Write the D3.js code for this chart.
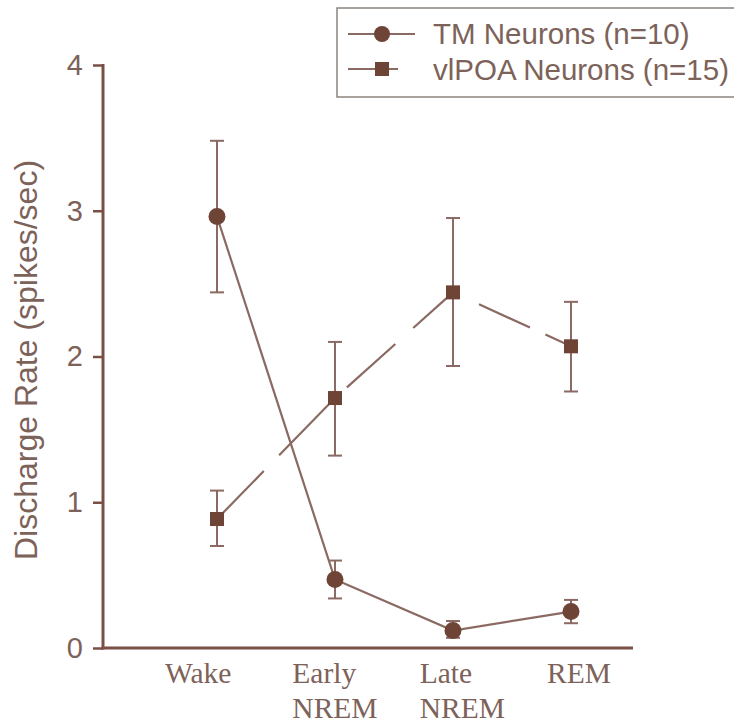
<!DOCTYPE html>
<html>
<head>
<meta charset="utf-8">
<script src="https://cdn.jsdelivr.net/npm/d3@7"></script>
<style>
  body { margin: 0; background: #fff; }
  svg { display: block; }
</style>
</head>
<body>
<svg width="734" height="723"></svg>
<script>
const states = ["Wake", "Early NREM", "Late NREM", "REM"];
const stateLines = [["Wake"], ["Early", "NREM"], ["Late", "NREM"], ["REM"]];
const yTicks = [0, 1, 2, 3, 4];

const tmMean = [2.96, 0.47, 0.12, 0.25];
const tmHigh = [3.48, 0.60, 0.185, 0.33];
const tmLow = [2.44, 0.34, 0.07, 0.17];

const vlMean = [0.885, 1.715, 2.44, 2.07];
const vlHigh = [1.08, 2.10, 2.95, 2.375];
const vlLow = [0.70, 1.32, 1.935, 1.76];

const seriesNames = ["TM Neurons (n=10)", "vlPOA Neurons (n=15)"];

const axisCol = "#7a5046";
const lineCol = "#8a6a62";
const markCol = "#6e4436";
const textCol = "#7d6259";

const svg = d3.select("svg");

const x = d3.scalePoint().domain(states).range([217, 571]);
const xLab = d3.scalePoint().domain(states).range([165, 547]);
const y = d3.scaleLinear().domain([0, 4]).range([648, 65]);

// axes
const yAxis = svg.append("g")
    .attr("transform", "translate(103,0)")
    .call(d3.axisLeft(y).tickValues(yTicks).tickSize(10).tickPadding(10).tickFormat(d3.format("d")));
yAxis.select(".domain").remove();
yAxis.selectAll("line").attr("stroke", axisCol).attr("stroke-width", 2.5);
yAxis.selectAll("text")
    .attr("fill", textCol)
    .style("font-family", "'Liberation Sans', Arial, sans-serif")
    .style("font-size", "29px");

svg.append("line")
    .attr("x1", 103).attr("x2", 103).attr("y1", y(4) - 1).attr("y2", y(0) + 1.5)
    .attr("stroke", axisCol).attr("stroke-width", 3);
svg.append("line")
    .attr("x1", 101.5).attr("x2", 633).attr("y1", y(0)).attr("y2", y(0))
    .attr("stroke", axisCol).attr("stroke-width", 3);

// x labels
const xl = svg.append("g").selectAll("text")
    .data(states)
    .enter().append("text")
    .attr("x", d => xLab(d))
    .attr("y", 683)
    .attr("fill", textCol)
    .style("font-family", "'Liberation Serif', 'Times New Roman', serif")
    .style("font-size", "29.5px");
xl.each(function(d, i) {
    const t = d3.select(this);
    stateLines[i].forEach((s, j) => {
        t.append("tspan").attr("x", xLab(d)).attr("dy", j === 0 ? 0 : 35).text(s);
    });
});

// y label
svg.append("text")
    .attr("transform", "translate(37,360) rotate(-90)")
    .attr("text-anchor", "middle")
    .attr("fill", textCol)
    .style("font-family", "'Liberation Sans', Arial, sans-serif")
    .style("font-size", "32px")
    .text("Discharge Rate (spikes/sec)");

// error bars
function errBars(mean, hi, lo) {
    const g = svg.append("g");
    states.forEach((s, i) => {
        g.append("line")
            .attr("x1", x(s)).attr("x2", x(s))
            .attr("y1", y(hi[i])).attr("y2", y(lo[i]))
            .attr("stroke", lineCol).attr("stroke-width", 2);
        [hi[i], lo[i]].forEach(v => {
            g.append("line")
                .attr("x1", x(s) - 7).attr("x2", x(s) + 7)
                .attr("y1", y(v)).attr("y2", y(v))
                .attr("stroke", lineCol).attr("stroke-width", 2);
        });
    });
}
errBars(tmMean, tmHigh, tmLow);
errBars(vlMean, vlHigh, vlLow);

const line = d3.line().x((d, i) => x(states[i])).y(d => y(d));

svg.append("path")
    .datum(vlMean)
    .attr("d", line)
    .attr("fill", "none")
    .attr("stroke", lineCol)
    .attr("stroke-width", 2.2)
    .attr("stroke-dasharray", "67,22,82,14,65,24,58,24,56,17,60");

svg.append("path")
    .datum(tmMean)
    .attr("d", line)
    .attr("fill", "none")
    .attr("stroke", lineCol)
    .attr("stroke-width", 2.2);

// markers
svg.append("g").selectAll("circle")
    .data(tmMean)
    .enter().append("circle")
    .attr("cx", (d, i) => x(states[i]))
    .attr("cy", d => y(d))
    .attr("r", 8.5)
    .attr("fill", markCol);

svg.append("g").selectAll("rect")
    .data(vlMean)
    .enter().append("rect")
    .attr("x", (d, i) => x(states[i]) - 7)
    .attr("y", d => y(d) - 7)
    .attr("width", 14)
    .attr("height", 14)
    .attr("fill", markCol);

// legend
const leg = svg.append("g");
leg.append("rect")
    .attr("x", 337).attr("y", 8).attr("width", 420).attr("height", 89)
    .attr("fill", "none").attr("stroke", "#8c8480").attr("stroke-width", 1.5);
leg.append("line").attr("x1", 348).attr("x2", 415).attr("y1", 34).attr("y2", 34)
    .attr("stroke", lineCol).attr("stroke-width", 2);
leg.append("circle").attr("cx", 382).attr("cy", 34).attr("r", 8).attr("fill", markCol);
leg.append("line").attr("x1", 348).attr("x2", 398).attr("y1", 69).attr("y2", 69)
    .attr("stroke", lineCol).attr("stroke-width", 2);
leg.append("rect").attr("x", 375).attr("y", 62).attr("width", 14).attr("height", 14).attr("fill", markCol);
leg.selectAll("text.lg")
    .data(seriesNames)
    .enter().append("text")
    .attr("class", "lg")
    .attr("x", 433)
    .attr("y", (d, i) => 44 + i * 36)
    .attr("fill", textCol)
    .style("font-family", "'Liberation Sans', Arial, sans-serif")
    .style("font-size", "29.5px")
    .text(d => d);
</script>
</body>
</html>
